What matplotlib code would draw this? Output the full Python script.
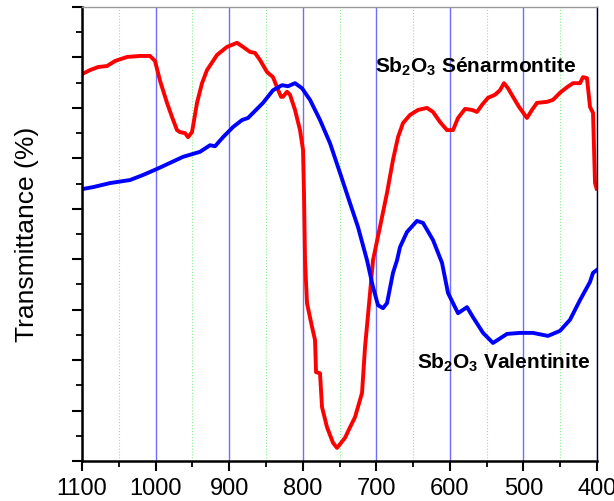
import matplotlib.pyplot as plt
from matplotlib.ticker import MultipleLocator, NullFormatter

plt.rcParams['font.family'] = ['Liberation Sans', 'DejaVu Sans']
plt.rcParams['mathtext.fontset'] = 'custom'
plt.rcParams['mathtext.bf'] = 'Liberation Sans:bold'
plt.rcParams['mathtext.rm'] = 'Liberation Sans'

# Sénarmontite (rojo): número de onda (cm-1) y transmitancia
sen_x = [1100.0, 1089.1, 1078.3, 1066.0, 1055.1, 1038.8, 1021.2, 1007.6, 1000.8, 994.0,
         984.5, 977.7, 970.9, 966.8, 960.0, 955.9, 950.5, 943.7, 936.9, 930.1,
         916.5, 902.9, 889.3, 881.2, 871.7, 864.9, 858.1, 848.5, 840.4, 835.0,
         829.5, 826.8, 821.4, 817.3, 810.5, 803.7, 799.6, 798.3, 796.9, 794.2,
         787.4, 783.3, 781.9, 776.5, 773.8, 767.0, 758.8, 753.4, 742.5, 735.7,
         728.9, 719.4, 715.3, 708.5, 704.5, 695.0, 685.5, 677.3, 670.5, 663.7,
         654.2, 643.3, 631.1, 622.9, 613.4, 603.9, 595.7, 588.9, 579.4, 569.9,
         563.1, 556.3, 548.2, 538.7, 531.9, 526.4, 521.0, 514.2, 506.0, 495.2,
         488.4, 481.6, 467.9, 459.8, 450.3, 440.8, 432.6, 423.1, 419.0, 413.6,
         409.5, 405.4, 402.7, 400.5]
sen_y = [76.7, 77.5, 78.1, 78.3, 79.3, 80.1, 80.3, 80.3, 79.3, 75.4,
         71.0, 68.2, 65.6, 65.2, 65.0, 64.2, 65.2, 71.0, 74.9, 77.5,
         80.5, 82.1, 82.9, 82.1, 81.1, 80.9, 79.5, 77.1, 76.1, 74.1,
         72.2, 72.2, 73.2, 72.6, 69.6, 65.6, 61.7, 53.1, 39.8, 31.3,
         26.6, 24.0, 17.6, 17.4, 10.7, 6.7, 3.6, 2.6, 4.6, 6.7,
         8.7, 13.5, 22.6, 33.3, 39.8, 46.4, 53.1, 59.7, 64.2, 67.0,
         68.6, 69.6, 70.0, 69.2, 67.2, 65.6, 65.6, 68.0, 69.8, 69.6,
         69.2, 70.6, 72.0, 72.6, 73.5, 74.9, 73.9, 72.2, 70.2, 68.0,
         69.6, 71.0, 71.2, 71.6, 73.0, 74.1, 74.9, 74.9, 76.1, 75.9,
         70.2, 69.0, 55.1, 54.0]

# Valentinita (azul)
val_x = [1100.0, 1085.0, 1061.9, 1034.8, 1017.1, 998.1, 980.4, 962.7, 939.6, 926.0,
         919.2, 908.3, 894.8, 882.5, 874.4, 867.6, 859.4, 854.0, 840.4, 828.2,
         820.0, 810.5, 801.0, 790.1, 776.5, 762.9, 749.3, 735.7, 724.9, 712.6,
         704.5, 697.7, 690.9, 685.4, 677.3, 671.8, 667.8, 658.3, 644.7, 636.5,
         622.9, 610.7, 602.5, 588.9, 576.7, 568.5, 554.9, 541.4, 522.3, 504.7,
         487.0, 466.6, 450.3, 436.7, 423.1, 409.5, 405.4, 400.0]
val_y = [53.9, 54.3, 55.1, 55.7, 56.7, 57.9, 59.1, 60.3, 61.3, 62.6,
         62.4, 64.2, 66.2, 67.6, 68.0, 69.0, 70.2, 71.0, 73.5, 74.5,
         74.3, 74.9, 73.9, 71.6, 67.6, 63.0, 57.1, 51.1, 46.4, 39.8,
         34.5, 30.9, 30.3, 31.3, 37.3, 39.8, 42.4, 45.4, 47.6, 47.2,
         43.8, 39.3, 33.3, 29.3, 30.5, 28.5, 25.4, 23.4, 25.2, 25.4,
         25.4, 24.8, 25.8, 28.0, 31.9, 35.5, 37.3, 37.9]

fig = plt.figure(figsize=(6.14, 5.01), dpi=100)
ax = fig.add_axes([0.1336, 0.0798, 0.8387, 0.9062])

# Rejilla vertical: azul en mayores, verde punteada en menores
ax.set_xlim(1100, 400)
ax.set_ylim(0, 90)
ax.xaxis.set_major_locator(MultipleLocator(100))
ax.xaxis.set_minor_locator(MultipleLocator(50))
ax.yaxis.set_major_locator(MultipleLocator(10))
ax.yaxis.set_minor_locator(MultipleLocator(5))
ax.yaxis.set_major_formatter(NullFormatter())
ax.grid(True, which='major', axis='x', color='#5555ff', lw=1.0, alpha=0.85)
ax.grid(True, which='minor', axis='x', color='#88ee88', lw=0.8, ls=':')
ax.set_axisbelow(True)

ax.plot(sen_x, sen_y, color='#ff0000', lw=2.8, solid_joinstyle='round')
ax.plot(val_x, val_y, color='#0000ff', lw=2.8, solid_joinstyle='round')

# Etiquetas de las fases (en píxeles de la figura)
ax.text(375, 428, r'$\mathbf{Sb_2O_3}$ Sénarmontite', transform=None, fontsize=15,
        fontweight='bold', va='baseline', ha='left')
ax.text(417, 132, r'$\mathbf{Sb_2O_3}$ Valentinite', transform=None, fontsize=15,
        fontweight='bold', va='baseline', ha='left')

ax.set_ylabel('Transmittance (%)', fontsize=19)
ax.yaxis.set_label_coords(-0.083, 0.5)

# Ejes y ticks
for lado in ['left', 'bottom', 'right']:
    ax.spines[lado].set_color('black')
ax.spines['left'].set_linewidth(1.8)
ax.spines['bottom'].set_linewidth(1.8)
ax.spines['right'].set_linewidth(1.0)
ax.spines['top'].set_color('#999999')
ax.spines['top'].set_linewidth(1.0)
ax.tick_params(which='major', length=7, width=1.5, labelsize=17, direction='out', pad=5)
ax.tick_params(which='minor', length=4, width=1.3, direction='out')

fig.savefig('out.png', dpi=100)
